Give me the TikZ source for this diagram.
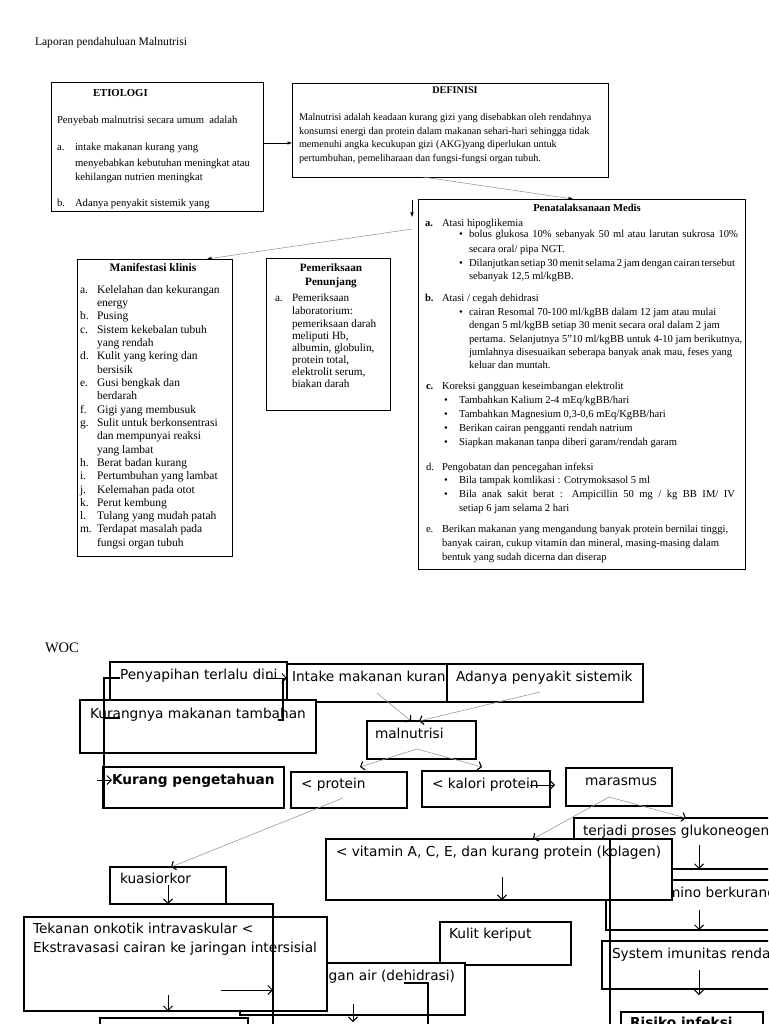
\documentclass[tikz,border=0pt]{standalone}
\usepackage{fontspec}
\setmainfont{Liberation Serif}
\newfontfamily\dvs{DejaVu Sans}
\usetikzlibrary{arrows.meta,calc,shadows}
\newcounter{tn}
\newcommand\T[4]{\stepcounter{tn}\node[txt,#1,name=t\arabic{tn}] at (#2,#3) {#4};}
\newcommand\BX[6]{\node[#1,minimum width={#5pt-#3pt},minimum height={#6pt-#4pt}] (#2) at (#3,#4) {};}
\begin{document}
\begin{tikzpicture}[x=1pt,y=-1pt,
 txt/.style={anchor=base west,inner sep=0pt,outer sep=0pt},
 ctr/.style={anchor=base},
 fT/.style={font=\fontsize{11.6}{13}\selectfont},
 fE/.style={font=\fontsize{10.7}{12}\selectfont},
 fEb/.style={font=\fontsize{10.7}{12}\selectfont\bfseries},
 fD/.style={font=\fontsize{10.2}{12}\selectfont},
 fDb/.style={font=\fontsize{10.2}{12}\selectfont\bfseries},
 fP/.style={font=\fontsize{10.6}{12}\selectfont},
 fPb/.style={font=\fontsize{10.6}{12}\selectfont\bfseries},
 fM/.style={font=\fontsize{11.5}{13}\selectfont},
 fMb/.style={font=\fontsize{11.5}{13}\selectfont\bfseries},
 fQ/.style={font=\fontsize{11.2}{13}\selectfont},
 fQb/.style={font=\fontsize{11.2}{13}\selectfont\bfseries},
 fW/.style={font=\fontsize{14.5}{16}\selectfont},
 fS/.style={font=\dvs\fontsize{13.7}{16}\selectfont},
 fSb/.style={font=\dvs\bfseries\fontsize{13.7}{16}\selectfont},
 box/.style={draw=black,line width=0.8pt,fill=white,inner sep=0pt,outer sep=0pt,anchor=north west},
 sbox/.style={box,drop shadow={shadow xshift=1.3pt,shadow yshift=-1.3pt,fill=black!55,opacity=1}},
 wbox/.style={draw=black,line width=1.1pt,fill=white,inner sep=0pt,outer sep=0pt,anchor=north west},
 tarr/.style={line width=0.5pt,-{Latex[length=4.5pt,width=3.5pt]}},
 tgarr/.style={draw=black!45,line width=0.5pt,-{Latex[color=black,length=4.5pt,width=3.5pt]}},
 garr/.style={draw=black!40,line width=0.6pt,-{Straight Barb[color=black,length=3.5pt,width=9pt,line width=1.1pt]}},
 barr/.style={draw=black,line width=1pt,-{Straight Barb[length=4.5pt,width=9pt]}},
 bln/.style={draw=black,line width=1.1pt},
]
\useasboundingbox (0,0) rectangle (768,1024);
\clip (0,0) rectangle (768,1024);
\fill[white] (0,0) rectangle (768,1024);

% ---------------- top part ----------------
\T{fT}{35}{46}{Laporan pendahuluan Malnutrisi}

\BX{box}{etio}{51}{82}{263}{211}
\BX{box}{defi}{292}{83}{608}{177}
\BX{sbox}{pena}{418}{199}{745}{569}
\BX{sbox}{mani}{77}{259}{232}{556}
\BX{sbox}{peme}{266}{258}{390}{410}

\draw[tarr] (etio.east |- 0,143) -- (defi.west |- 0,143);
\draw[tgarr] (defi.south -| 423,0) -- (pena.north -| 573,0);
\coordinate (pv) at (412,200);
\draw[tarr] (pv) -- (412,217);
\coordinate (pm) at (412,229);
\draw[tgarr] (pm) -- (mani.north -| 207,0);

\T{fEb}{93}{97}{ETIOLOGI}
\T{fE}{57}{124}{Penyebab malnutrisi secara umum\ \ adalah}
\T{fE}{57}{151}{a.}
\T{fE}{75}{151}{intake makanan kurang yang}
\T{fE}{75}{167}{menyebabkan kebutuhan meningkat atau}
\T{fE}{75}{181}{kehilangan nutrien meningkat}
\T{fE}{57}{207}{b.}
\T{fE}{75}{207}{Adanya penyakit sistemik yang}

\T{fDb,ctr}{455}{94}{DEFINISI}
\T{fD}{299}{121}{Malnutrisi adalah keadaan kurang gizi yang disebabkan oleh rendahnya}
\T{fD}{299}{134.5}{konsumsi energi dan protein dalam makanan sehari-hari sehingga tidak}
\T{fD}{299}{148}{memenuhi angka kecukupan gizi (AKG)yang diperlukan untuk}
\T{fD}{299}{161.5}{pertumbuhan, pemeliharaan dan fungsi-fungsi organ tubuh.}

\T{fPb,ctr}{587}{212}{Penatalaksanaan Medis}
\T{fPb}{425}{226}{a.}
\T{fP}{442}{226}{Atasi hipoglikemia}
\T{fP}{459}{237}{\textbullet}
\T{fP}{469}{237}{\makebox[269pt][s]{bolus glukosa 10\% sebanyak 50 ml atau larutan sukrosa 10\%}}
\T{fP}{469}{252}{secara oral/ pipa NGT.}
\T{fP}{459}{266}{\textbullet}
\T{fP}{469}{266}{\makebox[266pt][s]{Dilanjutkan setiap 30 menit selama 2 jam dengan cairan tersebut}}
\T{fP}{469}{279}{sebanyak 12,5 ml/kgBB.}
\T{fPb}{425}{301}{b.}
\T{fP}{442}{301}{Atasi / cegah dehidrasi}
\T{fP}{459}{315}{\textbullet}
\T{fP}{469}{315}{cairan Resomal 70-100 ml/kgBB dalam 12 jam atau mulai}
\T{fP}{469}{328}{dengan 5 ml/kgBB setiap 30 menit secara oral dalam 2 jam}
\T{fP}{469}{342}{pertama. Selanjutnya 5"10 ml/kgBB untuk 4-10 jam berikutnya,}
\T{fP}{469}{355}{jumlahnya disesuaikan seberapa banyak anak mau, feses yang}
\T{fP}{469}{368}{keluar dan muntah.}
\T{fPb}{426}{389}{c.}
\T{fP}{442}{389}{Koreksi gangguan keseimbangan elektrolit}
\T{fP}{444}{403}{\textbullet}
\T{fP}{459}{403}{Tambahkan Kalium 2-4 mEq/kgBB/hari}
\T{fP}{444}{417}{\textbullet}
\T{fP}{459}{417}{Tambahkan Magnesium 0,3-0,6 mEq/KgBB/hari}
\T{fP}{444}{431}{\textbullet}
\T{fP}{459}{431}{Berikan cairan pengganti rendah natrium}
\T{fP}{444}{445}{\textbullet}
\T{fP}{459}{445}{Siapkan makanan tanpa diberi garam/rendah garam}
\T{fP}{426}{470}{d.}
\T{fP}{442}{470}{Pengobatan dan pencegahan infeksi}
\T{fP}{444}{483}{\textbullet}
\T{fP}{459}{483}{Bila tampak komlikasi : Cotrymoksasol 5 ml}
\T{fP}{444}{497}{\textbullet}
\T{fP}{459}{497}{\makebox[276pt][s]{Bila anak sakit berat : Ampicillin 50 mg / kg BB IM/ IV}}
\T{fP}{459}{511}{setiap 6 jam selama 2 hari}
\T{fP}{426}{532}{e.}
\T{fP}{442}{532}{Berikan makanan yang mengandung banyak protein bernilai tinggi,}
\T{fP}{442}{546}{banyak cairan, cukup vitamin dan mineral, masing-masing dalam}
\T{fP}{442}{560}{bentuk yang sudah dicerna dan diserap}

\T{fMb,ctr}{153}{271}{Manifestasi klinis}
\T{fM}{80}{293}{a.}\T{fM}{97}{293}{Kelelahan dan kekurangan}
\T{fM}{97}{306}{energy}
\T{fM}{80}{319}{b.}\T{fM}{97}{319}{Pusing}
\T{fM}{80}{333}{c.}\T{fM}{97}{333}{Sistem kekebalan tubuh}
\T{fM}{97}{346}{yang rendah}
\T{fM}{80}{359}{d.}\T{fM}{97}{359}{Kulit yang kering dan}
\T{fM}{97}{373}{bersisik}
\T{fM}{80}{386}{e.}\T{fM}{97}{386}{Gusi bengkak dan}
\T{fM}{97}{399}{berdarah}
\T{fM}{80}{413}{f.}\T{fM}{97}{413}{Gigi yang membusuk}
\T{fM}{80}{426}{g.}\T{fM}{97}{426}{Sulit untuk berkonsentrasi}
\T{fM}{97}{439}{dan mempunyai reaksi}
\T{fM}{97}{453}{yang lambat}
\T{fM}{80}{466}{h.}\T{fM}{97}{466}{Berat badan kurang}
\T{fM}{80}{479}{i.}\T{fM}{97}{479}{Pertumbuhan yang lambat}
\T{fM}{80}{493}{j.}\T{fM}{97}{493}{Kelemahan pada otot}
\T{fM}{80}{506}{k.}\T{fM}{97}{506}{Perut kembung}
\T{fM}{80}{519}{l.}\T{fM}{97}{519}{Tulang yang mudah patah}
\T{fM}{80}{532}{m.}\T{fM}{97}{532}{Terdapat masalah pada}
\T{fM}{97}{546}{fungsi organ tubuh}

\T{fQb,ctr}{331}{271}{Pemeriksaan}
\T{fQb,ctr}{331}{285}{Penunjang}
\T{fQ}{275}{301}{a.}
\T{fQ}{292}{301}{Pemeriksaan}
\T{fQ}{292}{314}{laboratorium:}
\T{fQ}{292}{327}{pemeriksaan darah}
\T{fQ}{292}{339}{meliputi Hb,}
\T{fQ}{292}{351}{albumin, globulin,}
\T{fQ}{292}{363}{protein total,}
\T{fQ}{292}{375}{elektrolit serum,}
\T{fQ}{292}{387}{biakan darah}

% ---------------- WOC ----------------
\T{fW}{45}{652}{WOC}

\BX{wbox}{peny}{110}{662}{287}{724}
\T{fS}{120}{679}{Penyapihan terlalu dini}
\BX{wbox}{intake}{287}{664}{447}{702}
\T{fS}{292}{681}{Intake makanan kurang}
\BX{wbox}{adanya}{447}{664}{643}{702}
\T{fS}{456}{681}{Adanya penyakit sistemik}
\BX{wbox}{kurn}{80}{700}{316}{753}
\T{fS}{90}{718}{Kurangnya makanan tambahan}
\BX{wbox}{maln}{367}{721}{476}{759}
\T{fS}{375}{738}{malnutrisi}
\BX{wbox}{kpeng}{103}{767}{284}{808}
\T{fSb}{112}{784}{Kurang pengetahuan}
\BX{wbox}{prot}{291}{772}{407}{808}
\T{fS}{301}{788}{< protein}
\BX{wbox}{kalo}{422}{771}{550}{807}
\T{fS}{432}{788}{< kalori protein}
\BX{wbox}{maras}{566}{768}{672}{806}
\T{fS}{585}{785}{marasmus}
\BX{wbox}{terj}{574}{818}{800}{869}
\T{fS}{583}{835}{terjadi proses glukoneogenesis}
\BX{wbox}{amino}{606}{880}{800}{930}
\T{fS}{616}{897}{Asam amino berkurang}
\BX{wbox}{vita}{326}{839}{672}{900}
\T{fS}{336}{856}{< vitamin A, C, E, dan kurang protein (kolagen)}
\BX{wbox}{sysim}{602}{941}{800}{989}
\T{fS}{612}{958}{System imunitas rendah}
\BX{wbox}{risk}{621}{1012}{763}{1060}
\T{fSb}{630}{1027}{Risiko infeksi}
\BX{wbox}{kuasi}{110}{867}{226}{904}
\T{fS}{120}{883}{kuasiorkor}
\BX{wbox}{kulit}{440}{922}{571}{965}
\T{fS}{449}{938}{Kulit keriput}
\BX{wbox}{dehid}{240}{963}{465}{1015}
\T{fS,anchor=base east}{455}{980}{Kehilangan air (dehidrasi)}
\BX{wbox}{tekan}{24}{917}{327}{1011}
\T{fS}{33}{933}{Tekanan onkotik intravaskular <}
\T{fS}{33}{952}{Ekstravasasi cairan ke jaringan intersisial}
\BX{wbox}{botl}{100}{1018}{248}{1060}

% WOC connectors
\coordinate (w1) at (120,678);
\coordinate (w2) at (104,678);
\draw[bln] (w1) -- (w2) -- (kpeng.south -| w2);
\coordinate (w3) at (97,780);
\draw[barr,line width=0.9pt] (w3) -- ($(kpeng.west |- w3)+(9,0)$);
\coordinate (w4) at (120,718);
\draw[bln] (w2 |- w4) -- (w4);
\coordinate (w5) at (267,678);
\draw[barr] (w5) -- (intake.west |- w5);
\coordinate (w6) at (278,720);
\draw[bln] (w6) -- (283,720) -- (283,678);
\coordinate (w7) at (377,693);
\draw[garr] (w7) -- (maln.north -| 411,0);
\coordinate (w8) at (540,692);
\draw[garr] (w8) -- (maln.north -| 419,0);
\coordinate (w9) at (417,749);
\draw[garr] (w9) -- (360,767);
\draw[garr] (w9) -- (482,767);
\coordinate (w10) at (530,785);
\draw[barr] (w10) -- ($(maras.west |- w10)+(-11,0)$);
\coordinate (w11) at (609,797);
\draw[garr] (w11) -- (terj.north -| 686,0);
\draw[garr] (w11) -- (vita.north -| 533,0);
\coordinate (w12) at (343,798);
\draw[garr] (w12) -- (kuasi.north -| 171,0);
\coordinate (w13) at (699,845);
\draw[barr] (w13) -- (terj.south -| w13);
\coordinate (w14) at (699,910);
\draw[barr] (w14) -- (amino.south -| w14);
\coordinate (w15) at (699,970);
\draw[barr] (w15) -- (699,995);
\coordinate (w16) at (502,877);
\draw[barr] (w16) -- (vita.south -| w16);
\draw[bln] (vita.north -| 610,0) -- (610,1030);
\coordinate (w17) at (168,885);
\draw[barr] (w17) -- (kuasi.south -| w17);
\coordinate (w18) at (273,1030);
\draw[bln] (kuasi.south -| w17) -- (kuasi.south -| w18) -- (w18);
\coordinate (w19) at (221,990);
\draw[barr] (w19) -- (w18 |- w19);
\coordinate (w20) at (168,995);
\draw[barr,line width=0.8pt] (w20) -- (tekan.south -| w20);
\coordinate (w21) at (404,983);
\draw[bln] (w21) -- (428,983) -- (428,1030);
\coordinate (w22) at (353,1004);
\draw[barr] (w22) -- (353,1022);
\end{tikzpicture}
\end{document}
